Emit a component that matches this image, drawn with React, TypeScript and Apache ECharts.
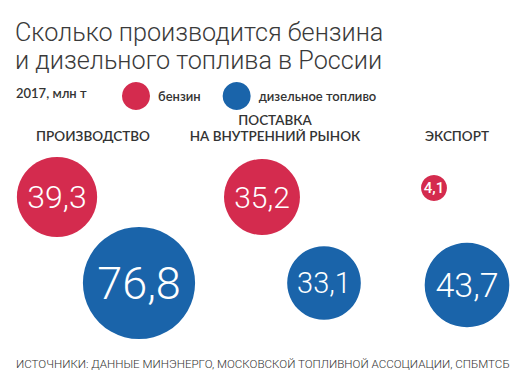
import React, { useEffect, useRef } from "react";
import * as echarts from "echarts";

const columns = ["ПРОИЗВОДСТВО", "ПОСТАВКА\nНА ВНУТРЕННИЙ РЫНОК", "ЭКСПОРТ"];
const gasoline = [39.3, 35.2, 4.1];
const diesel = [76.8, 33.1, 43.7];
const seriesNames = ["бензин", "дизельное топливо"];
const titleLines = ["Сколько производится бензина", "и дизельного топлива в России"];
const unitText = "2017, млн т";
const sourceText = "ИСТОЧНИКИ: ДАННЫЕ МИНЭНЕРГО, МОСКОВСКОЙ ТОПЛИВНОЙ АССОЦИАЦИИ, СПБМТСБ";

// layout tweaks (pixel offsets from column centre)
const gasOffsets = [[-36, 0], [-13, 0], [-23, -9]];
const dieselOffsets = [[46, 0], [49, 0], [10, 2]];

const RED = "#D42B4E";
const BLUE = "#1A64AA";
const FONT = "Lato, 'Open Sans', sans-serif";
const LIGHT = "Roboto, Lato, sans-serif";

const sizeOf = (v: number) => 12.8 * Math.sqrt(v);
const fontOf = (v: number) => Math.max(15, Math.round(sizeOf(v) * 0.4));
const fmt = (v: number) => String(v).replace(".", ",");

export default function App() {
  const ref = useRef<HTMLDivElement>(null);
  useEffect(() => {
    if (!ref.current) return;
    const chart = echarts.init(ref.current, undefined, { renderer: "svg" });
    const mk = (vals: number[], yv: number, offs: number[][]) =>
      vals.map((v, i) => ({
        value: [columns[i], yv, v],
        symbolOffset: offs[i],
        label: { fontSize: fontOf(v), fontWeight: v < 10 ? 500 : 300 },
      }));
    const labelCfg = {
      show: true,
      position: "inside",
      color: "#fff",
      fontFamily: LIGHT,
      fontWeight: 300,
      formatter: (p: any) => fmt(p.value[2]),
    };
    chart.setOption({
      animation: false,
      backgroundColor: "#fff",
      textStyle: { fontFamily: FONT },
      legend: {
        data: seriesNames,
        icon: "circle",
        left: 117,
        top: 77,
        itemWidth: 28,
        itemHeight: 28,
        itemGap: 22,
        textStyle: {
          fontFamily: FONT,
          fontSize: 13,
          fontWeight: 600,
          color: "#333",
          padding: [0, 0, 0, 3],
        },
      },
      graphic: [
        ...titleLines.map((t, i) => ({
          type: "text",
          left: 15,
          top: 18 + i * 28,
          style: {
            text: t,
            font: `300 25.2px ${LIGHT}`,
            lineHeight: 28,
            fill: "#3a3a3a",
          },
        })),
        {
          type: "text",
          left: 16,
          top: 86,
          style: {
            text: unitText,
            font: `600 13px ${FONT}`,
            fill: "#333",
          },
        },
        {
          type: "text",
          left: 16,
          top: 358,
          style: {
            text: sourceText,
            font: `300 11.6px ${LIGHT}`,
            fill: "#333",
          },
        },
      ],
      grid: { left: 2, width: 546, top: 154, height: 172, outerBoundsMode: "none", containLabel: false },
      xAxis: {
        type: "category",
        data: columns,
        position: "top",
        boundaryGap: true,
        axisLine: { show: false },
        axisTick: { show: false },
        splitLine: { show: false },
        axisLabel: {
          margin: 10,
          fontFamily: FONT,
          fontSize: 13.5,
          fontWeight: 600,
          color: "#333",
          lineHeight: 16,
          interval: 0,
        },
      },
      yAxis: {
        type: "value",
        min: -0.5,
        max: 1.5,
        show: false,
        splitLine: { show: false },
      },
      series: [
        {
          name: seriesNames[0],
          type: "scatter",
          itemStyle: { color: RED, opacity: 1 },
          symbolSize: (val: any) => sizeOf(val[2]),
          label: labelCfg,
          data: mk(gasoline, 1, gasOffsets),
        },
        {
          name: seriesNames[1],
          type: "scatter",
          itemStyle: { color: BLUE, opacity: 1 },
          symbolSize: (val: any) => sizeOf(val[2]),
          label: labelCfg,
          data: mk(diesel, 0, dieselOffsets),
        },
      ],
    });
    return () => chart.dispose();
  }, []);
  return <div ref={ref} style={{ width: 526, height: 380, position: "absolute", left: 0, top: 0 }} />;
}
